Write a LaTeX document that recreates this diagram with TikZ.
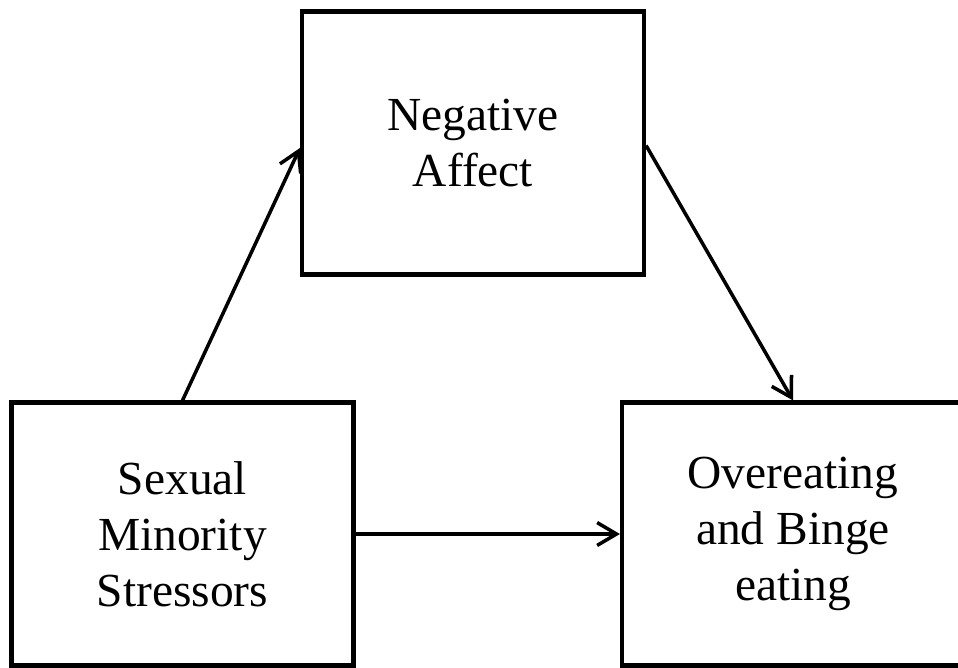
\documentclass[tikz,border=0pt]{standalone}
\usepackage{fontspec}
\setmainfont{Liberation Serif}
\usetikzlibrary{arrows.meta}

\tikzset{
  varbox/.style={draw,line width=2.4pt,rectangle,inner sep=0pt,align=center,
    minimum width=6.84cm,minimum height=5.26cm,
    font=\fontsize{27}{32}\selectfont},
  path/.style={line width=2pt,-{Straight Barb[length=11pt,width=13pt,line width=2pt]}}
}

\begin{document}
\begin{tikzpicture}[x=0.02cm,y=-0.02cm]
\useasboundingbox (0,0) rectangle (958,667);

\node [varbox] (affect) at (473,143) {Negative\\Affect};
\node [varbox] (stress) at (182.5,534) {Sexual\\Minority\\Stressors};
\node [varbox] (eating) at (793,534) {Overeating\\and Binge\\eating};

\draw [path] (stress.north) -- ([yshift=-0.1cm]affect.west);
\draw [path] ([yshift=-0.05cm]affect.east) -- (eating.north);
\draw [path] (stress.east) -- (eating.west);
\end{tikzpicture}
\end{document}
